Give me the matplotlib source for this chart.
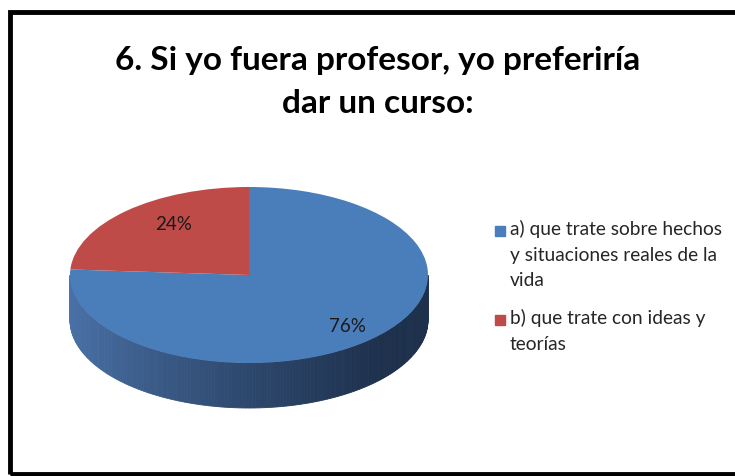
import numpy as np
import matplotlib
matplotlib.use("Agg")
import matplotlib.pyplot as plt
from matplotlib.patches import Rectangle

# data
labels = ["a) que trate sobre hechos\ny situaciones reales de la\nvida",
          "b) que trate con ideas y\nteorías"]
values = [76, 24]
colors = ["#4a7ebb", "#be4b48"]
title = "6. Si yo fuera profesor, yo preferiría\ndar un curso:"

W, H = 735, 476
fig = plt.figure(figsize=(W / 100, H / 100), dpi=100)
fig.patch.set_facecolor("white")

# pie geometry in pixels (centre, half axes, thickness)
cx, cy = 249, 275
a, b = 179, 88
depth = 45 / b      # thickness in y data units
pad = 1.2
ylo = -pad - depth - 0.1

left = (cx - a * pad) / W
width = 2 * a * pad / W
top = cy - b * pad
bottom = cy - b * ylo
ax = fig.add_axes([left, 1 - bottom / H, width, (bottom - top) / H])

# side wall of the 3d pie, shaded from light to dark blue
side_light = np.array([0x4a, 0x72, 0xa8]) / 255
side_dark = np.array([0x1d, 0x30, 0x4c]) / 255
t = np.linspace(np.pi, 2 * np.pi, 181)
for t1, t2 in zip(t[:-1], t[1:]):
    xm = (np.cos(t1) + np.cos(t2)) / 2
    f = np.clip((xm + 1) / 1.75, 0, 1) ** 0.8
    c = side_light * (1 - f) + side_dark * f
    xs = [np.cos(t1), np.cos(t2), np.cos(t2), np.cos(t1)]
    ys = [np.sin(t1), np.sin(t2), np.sin(t2) - depth, np.sin(t1) - depth]
    ax.fill(xs, ys, color=c, lw=0.6, ec=c)

wedges, texts, autotexts = ax.pie(values, colors=colors, startangle=90,
                                  counterclock=False, autopct="%1.0f%%",
                                  pctdistance=0.8,
                                  textprops=dict(fontsize=13.5, family="Lato",
                                                 color="#1a1a1a"))
autotexts[1].set_position((-0.42, 0.57))
ax.set_aspect("auto")
ax.set_xlim(-pad, pad)
ax.set_ylim(ylo, pad)
ax.axis("off")

fig.text(0.5 * (735 + 20) / W, 1 - 82 / H, title, ha="center", va="center",
         fontsize=24, fontweight="bold", family="Lato", linespacing=1.55)

# legend drawn by hand so the squares sit next to the first line
ly = [231, 320]
for lab, col, y in zip(labels, colors, ly):
    fig.patches.append(Rectangle((495 / W, 1 - (y + 5) / H), 10 / W, 10 / H,
                                 transform=fig.transFigure, color=col))
    fig.text(510 / W, 1 - (y - 11) / H, lab, ha="left", va="top",
             fontsize=13.8, family="Lato", color="#262626", linespacing=1.62)

# outer frame
fig.patches.append(Rectangle((10 / W, 2 / H), 740 / W, 462 / H,
                             transform=fig.transFigure, fill=False,
                             ec="black", lw=3.5))

fig.savefig("out.png", dpi=100)
